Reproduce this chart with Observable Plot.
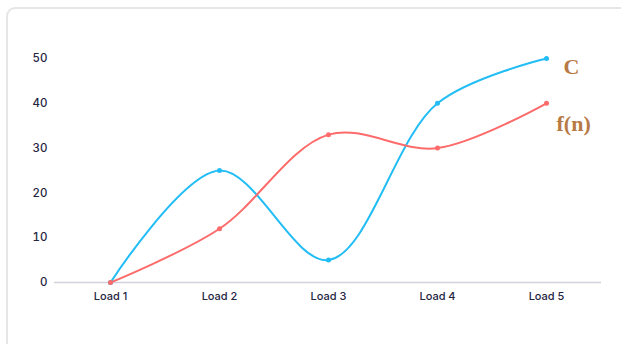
<!DOCTYPE html>
<html>
<head>
<meta charset="utf-8">
<script src="https://cdn.jsdelivr.net/npm/d3@7"></script>
<script src="https://cdn.jsdelivr.net/npm/@observablehq/plot@0.6"></script>
<style>
  html, body { margin: 0; padding: 0; background: #fff; overflow: hidden; }
  #wrap { position: relative; width: 621px; height: 344px; }
  #card { position: absolute; left: 6px; top: 7px; width: 700px; height: 420px;
          border: 2px solid #e6e6e6; border-radius: 9px; box-sizing: border-box; }
  #chart { position: absolute; left: 0; top: 0; }
</style>
</head>
<body>
<div id="wrap"><div id="card"></div><div id="chart"></div></div>
<script>
const categories = ["Load 1", "Load 2", "Load 3", "Load 4", "Load 5"];
const seriesC = [0, 25, 5, 40, 50];
const seriesF = [0, 12, 33, 30, 40];
const seriesNames = ["C", "f(n)"];
const yTicks = [0, 10, 20, 30, 40, 50];

const colors = { "C": "#22bdf5", "f(n)": "#fd6b6b" };

const rows = [];
categories.forEach((c, i) => {
  rows.push({ cat: c, value: seriesC[i], series: "C" });
  rows.push({ cat: c, value: seriesF[i], series: "f(n)" });
});
const lastC = rows.filter(d => d.series === "C" && d.cat === categories[categories.length - 1]);
const lastF = rows.filter(d => d.series === "f(n)" && d.cat === categories[categories.length - 1]);

const labelStyle = { fontFamily: "'Liberation Serif', 'DejaVu Serif', serif", fontWeight: "bold", fontSize: 22, fill: "#b87a45", textAnchor: "start" };

const chart = Plot.plot({
  width: 621,
  height: 344,
  marginLeft: 54,
  marginRight: 20,
  marginTop: 58,
  marginBottom: 62,
  style: { fontFamily: "Inter, 'Noto Sans', sans-serif", fontSize: "11px", color: "#2a2a45", background: "transparent" },
  x: { domain: categories, type: "point", padding: 0.5, label: null, tickSize: 0, tickPadding: 10 },
  y: { domain: [0, 50], ticks: yTicks, label: null, tickSize: 0, tickPadding: 10 },
  marks: [
    Plot.gridY(yTicks.filter(t => t > 0), { x1: 57, x2: 601, stroke: "#e9e9e9", strokeOpacity: 1, strokeWidth: 1 }),
    Plot.ruleY([0], { stroke: "#d2d2dc", strokeWidth: 1.3 }),
    Plot.axisX({ tickSize: 0, tickPadding: 10, fontSize: 11, fontWeight: 500, fill: "#25253f" }),
    Plot.axisY({ ticks: yTicks, tickSize: 0, tickPadding: 7, fontSize: 11.5, fontWeight: 500, fill: "#25253f" }),
    Plot.line(rows, { x: "cat", y: "value", z: "series", stroke: d => colors[d.series], strokeWidth: 2, curve: "catmull-rom" }),
    Plot.dot(rows, { x: "cat", y: "value", fill: d => colors[d.series], r: 2.5, stroke: "none" }),
    Plot.text(lastC, { x: "cat", y: "value", text: d => d.series, dx: 17, dy: 8, ...labelStyle }),
    Plot.text(lastF, { x: "cat", y: "value", text: d => d.series, dx: 10, dy: 21, ...labelStyle })
  ]
});
document.getElementById("chart").appendChild(chart);
</script>
</body>
</html>
